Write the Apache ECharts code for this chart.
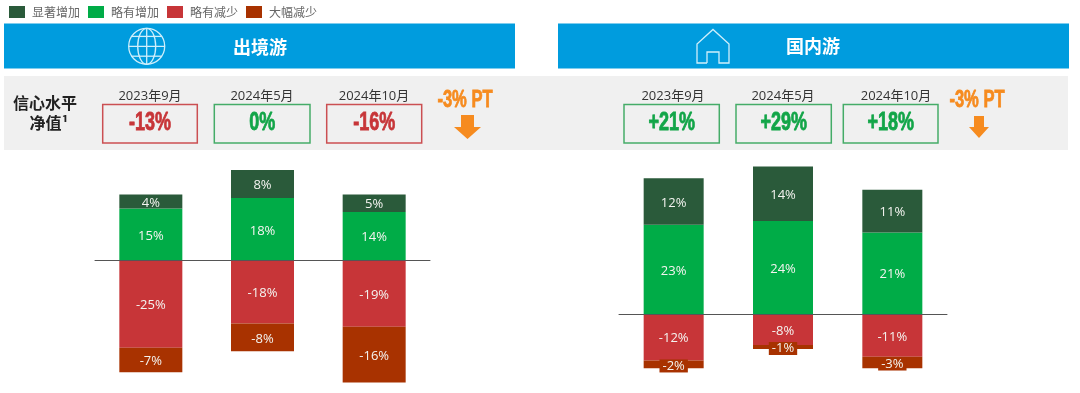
<!DOCTYPE html>
<html>
<head>
<meta charset="utf-8">
<style>
  html, body { margin: 0; padding: 0; background: #fff; }
  #main { width: 1080px; height: 393px; }
</style>
<script src="https://cdn.jsdelivr.net/npm/echarts@6/dist/echarts.min.js"></script>
</head>
<body>
<div id="main"></div>
<script>
const categories = ['2023年9月', '2024年5月', '2024年10月'];
const seriesNames = ['显著增加', '略有增加', '略有减少', '大幅减少'];

// 出境游
const outboundMuchMore = [4, 8, 5];
const outboundMore = [15, 18, 14];
const outboundLess = [-25, -18, -19];
const outboundMuchLess = [-7, -8, -16];
const outboundNet = ['-13%', '0%', '-16%'];

// 国内游
const domesticMuchMore = [12, 14, 11];
const domesticMore = [23, 24, 21];
const domesticLess = [-12, -8, -11];
const domesticMuchLess = [-2, -1, -3];
const domesticNet = ['+21%', '+29%', '+18%'];

const changeText = '-3% PT';

const colors = {
  darkGreen: '#2A5A3A',
  green: '#00AC47',
  red: '#C73538',
  brown: '#A83200',
  blue: '#009CDE',
  panel: '#F0F0F0',
  orange: '#F68B1F',
  boxRed: '#CB4F52',
  boxGreen: '#45AC68',
  netRed: '#C73538',
  netGreen: '#12A548'
};

const font = '"Open Sans", "Noto Sans CJK SC", sans-serif';
const cjk = '"Noto Sans CJK SC", sans-serif';
const narrow = '"Liberation Sans", sans-serif';

function barSeries(name, data, color, index, labelBg) {
  return {
    name: name,
    type: 'bar',
    stack: 'total' + index,
    xAxisIndex: index,
    yAxisIndex: index,
    barWidth: index === 0 ? 63 : 60,
    data: data,
    itemStyle: { color: color },
    label: {
      show: true,
      position: 'inside',
      formatter: p => p.value + '%',
      color: '#F4F4F0',
      fontFamily: font,
      fontSize: 13,
      backgroundColor: labelBg || 'transparent',
      padding: labelBg ? [0, 3] : 0,
      offset: [0, 1.5]
    }
  };
}

// 上方的说明区，都是装饰元素
function text(x, y, str, size, color, weight, scaleX, family, heavy) {
  return {
    type: 'text',
    x: x,
    y: y,
    scaleX: scaleX || 1,
    style: {
      text: str,
      align: 'center',
      verticalAlign: 'middle',
      fontSize: size,
      fontWeight: weight || 'normal',
      fontFamily: family || cjk,
      fill: color,
      stroke: heavy ? color : null,
      lineWidth: heavy ? 0.8 : 0
    }
  };
}

function rect(x, y, w, h, fill, stroke) {
  return {
    type: 'rect',
    shape: { x: x, y: y, width: w, height: h },
    style: { fill: fill, stroke: stroke || null, lineWidth: stroke ? 1.5 : 0 }
  };
}

function arrow(cx, halfHead, halfShaft, top, neck, bottom) {
  return {
    type: 'polygon',
    shape: {
      points: [
        [cx - halfShaft, top], [cx + halfShaft, top], [cx + halfShaft, neck],
        [cx + halfHead, neck], [cx, bottom], [cx - halfHead, neck], [cx - halfShaft, neck]
      ]
    },
    style: { fill: colors.orange }
  };
}

function globe(cx, cy, r) {
  const line = { fill: null, stroke: '#CFEFFB', lineWidth: 1.3 };
  const parts = [
    { type: 'circle', shape: { cx: cx, cy: cy, r: r }, style: line },
    { type: 'ellipse', shape: { cx: cx, cy: cy, rx: r * 0.5, ry: r }, style: line },
    { type: 'line', shape: { x1: cx, y1: cy - r, x2: cx, y2: cy + r }, style: line },
    { type: 'line', shape: { x1: cx - r, y1: cy, x2: cx + r, y2: cy }, style: line }
  ];
  [-0.55, 0.55].forEach(k => {
    const dx = r * Math.sqrt(1 - k * k);
    parts.push({ type: 'line', shape: { x1: cx - dx, y1: cy + k * r, x2: cx + dx, y2: cy + k * r }, style: line });
  });
  return parts;
}

function house() {
  return {
    type: 'polyline',
    shape: {
      points: [
        [707, 63], [707, 52], [719, 52], [719, 63], [729, 63], [729, 44], [713, 29.5],
        [697, 44], [697, 63], [707, 63]
      ]
    },
    style: { fill: null, stroke: '#CFEFFB', lineWidth: 1.3 }
  };
}

function netBox(x, w, date, dateX, net) {
  const positive = net.charAt(0) === '+' || net === '0%';
  return [
    rect(x, 104.5, w, 38.5, 'transparent', positive ? colors.boxGreen : colors.boxRed),
    text(dateX, 96, date, 13, '#333', 'normal', 1, font),
    text(x + w / 2, 123, net, 25, positive ? colors.netGreen : colors.netRed, 'bold', 0.72, narrow, true)
  ];
}

const graphics = [
  rect(4, 23.5, 511, 45, colors.blue),
  rect(558, 23.5, 511, 45, colors.blue),
  rect(4, 76, 1064, 74, colors.panel),
  text(260, 47, '出境游', 18, '#fff', 'bold'),
  text(813, 46, '国内游', 18, '#fff', 'bold'),
  text(45, 103, '信心水平', 16, '#222', 'bold'),
  text(49, 123, '净值¹', 16, '#222', 'bold'),
  text(465, 100, changeText, 24, colors.orange, 'bold', 0.69, narrow, true),
  text(977, 100, changeText, 24, colors.orange, 'bold', 0.69, narrow, true),
  arrow(467.5, 13.5, 6.5, 115, 127, 139),
  arrow(979, 10, 5, 116, 127, 138),
  house()
].concat(
  globe(146.7, 46.3, 18),
  netBox(102.7, 94.6, categories[0], 150, outboundNet[0]),
  netBox(214.3, 95.7, categories[1], 262, outboundNet[1]),
  netBox(326.7, 95, categories[2], 374, outboundNet[2]),
  netBox(624, 95.3, categories[0], 673, domesticNet[0]),
  netBox(736, 95.3, categories[1], 783, domesticNet[1]),
  netBox(843.3, 94.7, categories[2], 896, domesticNet[2])
);

const option = {
  animation: false,
  legend: {
    left: 4,
    top: 1,
    icon: 'rect',
    itemWidth: 16,
    itemHeight: 12,
    itemGap: 8,
    selectedMode: false,
    data: seriesNames,
    textStyle: { color: '#666', fontSize: 12, fontFamily: cjk, padding: [0, 0, 0, 2] }
  },
  grid: [
    { left: 95, width: 335, top: 163.1, height: 223 },
    { left: 619, width: 328, top: 158.8, height: 217.3 }
  ],
  xAxis: [0, 1].map(i => ({
    type: 'category',
    gridIndex: i,
    data: categories,
    axisTick: { show: false },
    axisLabel: { show: false },
    axisLine: { onZero: true, lineStyle: { color: '#555', width: 1 } },
    z: 5
  })),
  yAxis: [
    { type: 'value', gridIndex: 0, min: -36, max: 28, show: false },
    { type: 'value', gridIndex: 1, min: -16, max: 40, show: false }
  ],
  graphic: { elements: graphics },
  series: [
    barSeries(seriesNames[1], outboundMore, colors.green, 0),
    barSeries(seriesNames[0], outboundMuchMore, colors.darkGreen, 0),
    barSeries(seriesNames[2], outboundLess, colors.red, 0),
    barSeries(seriesNames[3], outboundMuchLess, colors.brown, 0),
    barSeries(seriesNames[1], domesticMore, colors.green, 1),
    barSeries(seriesNames[0], domesticMuchMore, colors.darkGreen, 1),
    barSeries(seriesNames[2], domesticLess, colors.red, 1),
    barSeries(seriesNames[3], domesticMuchLess, colors.brown, 1, colors.brown)
  ]
};

const myChart = echarts.init(document.getElementById('main'));
myChart.setOption(option);
</script>
</body>
</html>
